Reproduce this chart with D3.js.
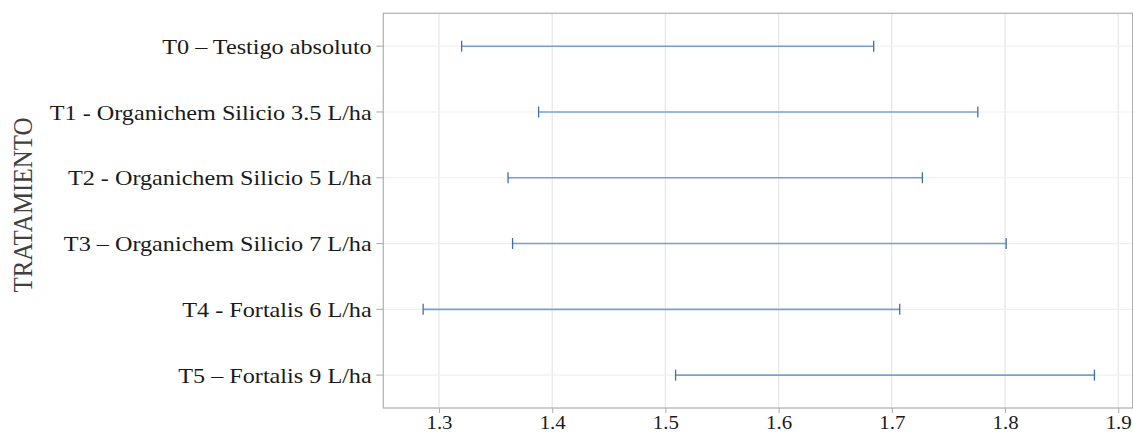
<!DOCTYPE html>
<html>
<head>
<meta charset="utf-8">
<script src="https://cdn.jsdelivr.net/npm/d3@7"></script>
<style>
  html, body { margin: 0; padding: 0; background: #ffffff; }
  svg { display: block; }
  text { font-family: "Liberation Serif", "Times New Roman", serif; }
</style>
</head>
<body>
<svg id="chart" width="1133" height="434"></svg>
<script>
// Treatments, top to bottom
const treatments = [
  "T0 \u2013 Testigo absoluto",
  "T1 - Organichem Silicio 3.5 L/ha",
  "T2 - Organichem Silicio 5 L/ha",
  "T3 \u2013 Organichem Silicio 7 L/ha",
  "T4 - Fortalis 6 L/ha",
  "T5 \u2013 Fortalis 9 L/ha"
];
// Lower and upper limits of each interval
const lower = [1.320, 1.388, 1.361, 1.365, 1.286, 1.509];
const upper = [1.684, 1.776, 1.727, 1.801, 1.707, 1.879];
// Axis ticks
const xTicks = [1.3, 1.4, 1.5, 1.6, 1.7, 1.8, 1.9];
const yTitle = "TRATAMIENTO";

const data = treatments.map((t, i) => ({ t, lo: lower[i], hi: upper[i] }));

const panel = { left: 383.3, right: 1132.6, top: 13.3, bottom: 408 };
const stretch = 1.1; // horizontal widening of the serif labels

const svg = d3.select("#chart");

const x = d3.scaleLinear()
  .domain([1.2508, 1.9127])
  .range([panel.left, panel.right]);

const y = d3.scaleBand()
  .domain(treatments)
  .range([panel.top, panel.bottom])
  .padding(0);
const yc = d => y(d) + y.bandwidth() / 2;

// Panel background
svg.append("rect")
  .attr("x", panel.left).attr("y", panel.top)
  .attr("width", panel.right - panel.left)
  .attr("height", panel.bottom - panel.top)
  .attr("fill", "#ffffff");

// Grid lines
svg.append("g").selectAll("line")
  .data(xTicks).join("line")
  .attr("x1", d => x(d)).attr("x2", d => x(d))
  .attr("y1", panel.top).attr("y2", panel.bottom)
  .attr("stroke", "#e6e6e6").attr("stroke-width", 1.2);

svg.append("g").selectAll("line")
  .data(treatments).join("line")
  .attr("x1", panel.left).attr("x2", panel.right)
  .attr("y1", d => yc(d)).attr("y2", d => yc(d))
  .attr("stroke", "#f0f0f0").attr("stroke-width", 1.2);

// Error bars
const bars = svg.append("g").selectAll("g")
  .data(data).join("g");

bars.append("line")
  .attr("x1", d => x(d.lo)).attr("x2", d => x(d.hi))
  .attr("y1", d => yc(d.t)).attr("y2", d => yc(d.t))
  .attr("stroke", "#7aa0d2").attr("stroke-width", 1.6);

const capH = 5.5;
bars.selectAll("line.cap")
  .data(d => [{ v: d.lo, t: d.t }, { v: d.hi, t: d.t }])
  .join("line")
  .attr("class", "cap")
  .attr("x1", d => x(d.v)).attr("x2", d => x(d.v))
  .attr("y1", d => yc(d.t) - capH).attr("y2", d => yc(d.t) + capH)
  .attr("stroke", "#3a6fb3").attr("stroke-width", 1.3);

// Panel border
svg.append("rect")
  .attr("x", panel.left).attr("y", panel.top)
  .attr("width", panel.right - panel.left)
  .attr("height", panel.bottom - panel.top)
  .attr("fill", "none")
  .attr("stroke", "#b0b0b0").attr("stroke-width", 1.2);

// Left axis
const yAxis = svg.append("g")
  .attr("transform", `translate(${panel.left},0)`)
  .call(d3.axisLeft(y).tickSizeOuter(0).tickSize(7).tickPadding(0));
yAxis.select(".domain").remove();
yAxis.selectAll(".tick line").attr("stroke", "#b0b0b0").attr("stroke-width", 1.1);
yAxis.selectAll(".tick text")
  .attr("x", null)
  .attr("dy", null)
  .attr("dominant-baseline", "central")
  .attr("transform", `translate(-11.6,0) scale(${stretch},1)`)
  .attr("text-anchor", "end")
  .attr("font-family", "'Liberation Serif', 'Times New Roman', serif")
  .attr("font-size", 22)
  .attr("fill", "#1a1a1a");

// Bottom axis
const xAxis = svg.append("g")
  .attr("transform", `translate(0,${panel.bottom})`)
  .call(d3.axisBottom(x).tickValues(xTicks).tickFormat(d3.format(".1f"))
    .tickSizeOuter(0).tickSize(5));
xAxis.select(".domain").remove();
xAxis.selectAll(".tick line").attr("stroke", "#b0b0b0").attr("stroke-width", 1.1);
xAxis.selectAll(".tick text")
  .attr("y", null).attr("dy", null)
  .attr("transform", `translate(0,21) scale(${stretch},1)`)
  .attr("text-anchor", "middle")
  .attr("font-family", "'Liberation Serif', 'Times New Roman', serif")
  .attr("font-size", 19)
  .attr("fill", "#1a1a1a");

// Axis title
svg.append("text")
  .attr("transform", `translate(31.5,205) scale(${stretch},1) rotate(-90)`)
  .attr("text-anchor", "middle")
  .attr("font-size", 25)
  .attr("fill", "#404040")
  .text(yTitle);
</script>
</body>
</html>
